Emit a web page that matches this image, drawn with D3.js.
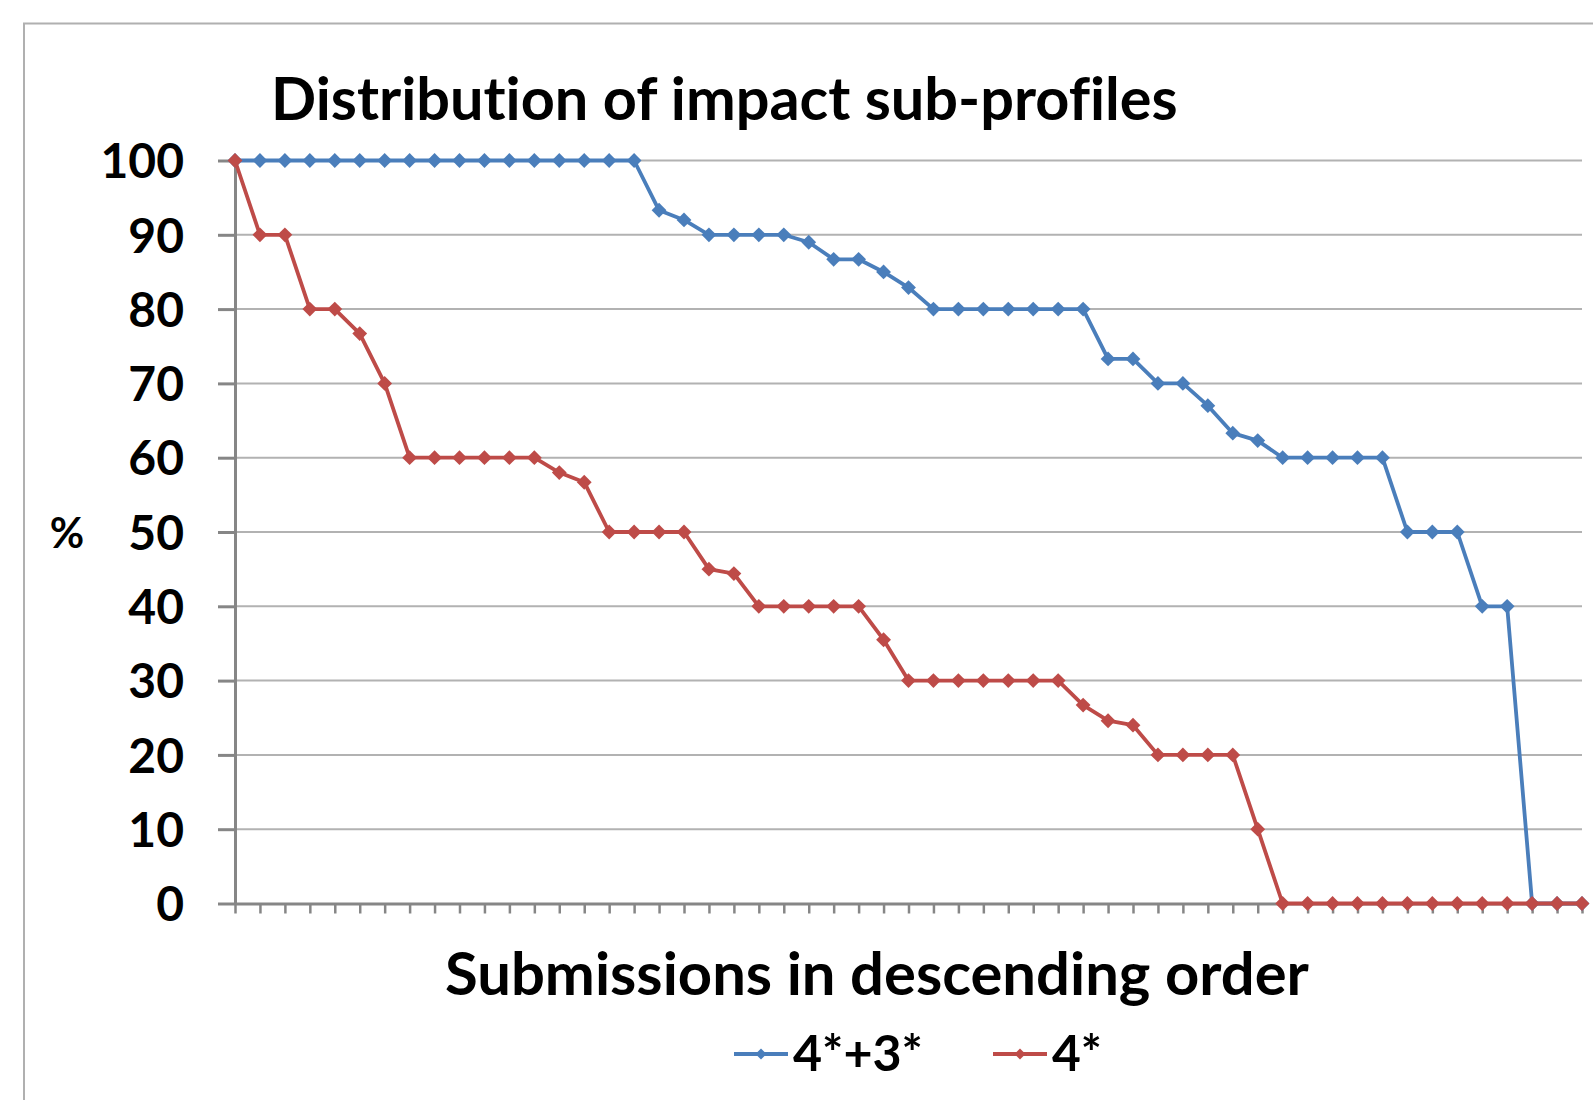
<!DOCTYPE html>
<html>
<head>
<meta charset="utf-8">
<script src="https://cdn.jsdelivr.net/npm/d3@7"></script>
<style>
  body { margin: 0; background: #fff; }
  text { font-family: Lato, "Open Sans", sans-serif; font-weight: bold; fill: #000; font-variant-ligatures: none; }
</style>
</head>
<body>
<div id="chart"></div>
<script>
// submissions (one per category slot on the x axis)
const submissions = [
  1, 2, 3, 4, 5, 6, 7, 8, 9, 10, 11, 12, 13, 14, 15, 16, 17, 18, 19, 20,
  21, 22, 23, 24, 25, 26, 27, 28, 29, 30, 31, 32, 33, 34, 35, 36, 37, 38, 39, 40,
  41, 42, 43, 44, 45, 46, 47, 48, 49, 50, 51, 52, 53, 54, 55
];

// 4*+3* profile, descending
const share43 = [
  100, 100, 100, 100, 100, 100, 100, 100, 100, 100, 100, 100, 100, 100, 100, 100, 100,
  93.3, 92, 90, 90, 90, 90, 89, 86.7, 86.7, 85, 82.9,
  80, 80, 80, 80, 80, 80, 80,
  73.3, 73.3, 70, 70, 67, 63.3, 62.3,
  60, 60, 60, 60, 60, 50, 50, 50, 40, 40, 0, 0, 0
];

// 4* profile, descending
const share4 = [
  100, 90, 90, 80, 80, 76.7, 70,
  60, 60, 60, 60, 60, 60, 58, 56.7,
  50, 50, 50, 50, 45, 44.4,
  40, 40, 40, 40, 40, 35.5,
  30, 30, 30, 30, 30, 30, 30,
  26.7, 24.6, 24, 20, 20, 20, 20, 10,
  0, 0, 0, 0, 0, 0, 0, 0, 0, 0, 0, 0, 0
];

const yTicks = [0, 10, 20, 30, 40, 50, 60, 70, 80, 90, 100];
const seriesNames = ["4*+3*", "4*"];
const seriesColors = ["#4a7ebb", "#be4b48"];

const W = 1593, H = 1100;
const plotL = 235, plotR = 1582, plotT = 160.5, plotB = 903.5;

const svg = d3.select("#chart")
  .append("svg")
  .attr("width", W)
  .attr("height", H);

// chart area frame (runs off the picture on the right and bottom)
svg.append("rect")
  .attr("x", 24)
  .attr("y", 23.5)
  .attr("width", 1700)
  .attr("height", 1200)
  .attr("fill", "#fff")
  .attr("stroke", "#b0b0b0")
  .attr("stroke-width", 2);

const x = d3.scalePoint().domain(submissions).range([plotL, plotR]);
const y = d3.scaleLinear().domain([0, 100]).range([plotB, plotT]);

// shrink or grow a text so it spans the given width
function fit(sel, w) {
  const fs = parseFloat(sel.attr("font-size"));
  const cur = sel.node().getComputedTextLength();
  sel.attr("font-size", fs * w / cur);
}

// gridlines
svg.append("g")
  .selectAll("line")
  .data(yTicks.filter((d) => d > 0))
  .enter()
  .append("line")
  .attr("x1", plotL)
  .attr("x2", plotR)
  .attr("y1", (d) => y(d))
  .attr("y2", (d) => y(d))
  .attr("stroke", "#b2b2b2")
  .attr("stroke-width", 2);

// y axis
const yAxis = svg.append("g")
  .attr("transform", `translate(${plotL},0)`)
  .call(d3.axisLeft(y).tickValues(yTicks).tickSize(17).tickSizeOuter(0).tickPadding(34));
yAxis.select(".domain").attr("stroke", "#868686").attr("stroke-width", 3);
yAxis.selectAll(".tick line").attr("stroke", "#868686").attr("stroke-width", 3);
yAxis.selectAll(".tick text")
  .attr("font-size", 48)
  .attr("font-family", "Lato")
  .attr("font-weight", "bold")
  .attr("fill", "#000")
  .attr("dy", "0.36em");

// x axis
const xAxis = svg.append("g")
  .attr("transform", `translate(0,${plotB})`)
  .call(d3.axisBottom(x).tickSize(10).tickSizeOuter(0).tickFormat(""));
xAxis.select(".domain").attr("stroke", "#868686").attr("stroke-width", 3);
xAxis.selectAll(".tick line").attr("stroke", "#868686").attr("stroke-width", 2.5);

// series lines and diamond markers
const line = d3.line().x((d, i) => x(submissions[i])).y((d) => y(d));
const diamond = d3.symbol().type(d3.symbolSquare).size(110);

[share43, share4].forEach((vals, k) => {
  svg.append("path")
    .datum(vals)
    .attr("d", line)
    .attr("fill", "none")
    .attr("stroke", seriesColors[k])
    .attr("stroke-width", 3.8)
    .attr("stroke-linejoin", "round");
  svg.append("g")
    .selectAll("path")
    .data(vals)
    .enter()
    .append("path")
    .attr("d", diamond)
    .attr("transform", (d, i) => `translate(${x(submissions[i])},${y(d)}) rotate(45)`)
    .attr("fill", seriesColors[k]);
});

// title
const title = svg.append("text")
  .attr("x", 271)
  .attr("y", 120)
  .attr("font-size", 56)
  .text("Distribution of impact sub-profiles");
fit(title, 907);

// axis titles
svg.append("text")
  .attr("x", 67)
  .attr("y", 533)
  .attr("dy", "0.36em")
  .attr("text-anchor", "middle")
  .attr("font-size", 42)
  .text("%");

const xTitle = svg.append("text")
  .attr("x", 445)
  .attr("y", 995)
  .attr("font-size", 56)
  .text("Submissions in descending order");
fit(xTitle, 864);

// legend
const legendX = [734, 993];
const legendTextW = [130, 50];
const legend = svg.append("g");
seriesNames.forEach((name, k) => {
  const lx = legendX[k];
  legend.append("line")
    .attr("x1", lx)
    .attr("x2", lx + 54)
    .attr("y1", 1054)
    .attr("y2", 1054)
    .attr("stroke", seriesColors[k])
    .attr("stroke-width", 3.8);
  legend.append("path")
    .attr("d", d3.symbol().type(d3.symbolSquare).size(60))
    .attr("transform", `translate(${lx + 27},1054) rotate(45)`)
    .attr("fill", seriesColors[k]);
  const t = legend.append("text")
    .attr("x", lx + 59)
    .attr("y", 1071)
    .attr("font-size", 50)
    .text(name);
  fit(t, legendTextW[k]);
});
</script>
</body>
</html>
